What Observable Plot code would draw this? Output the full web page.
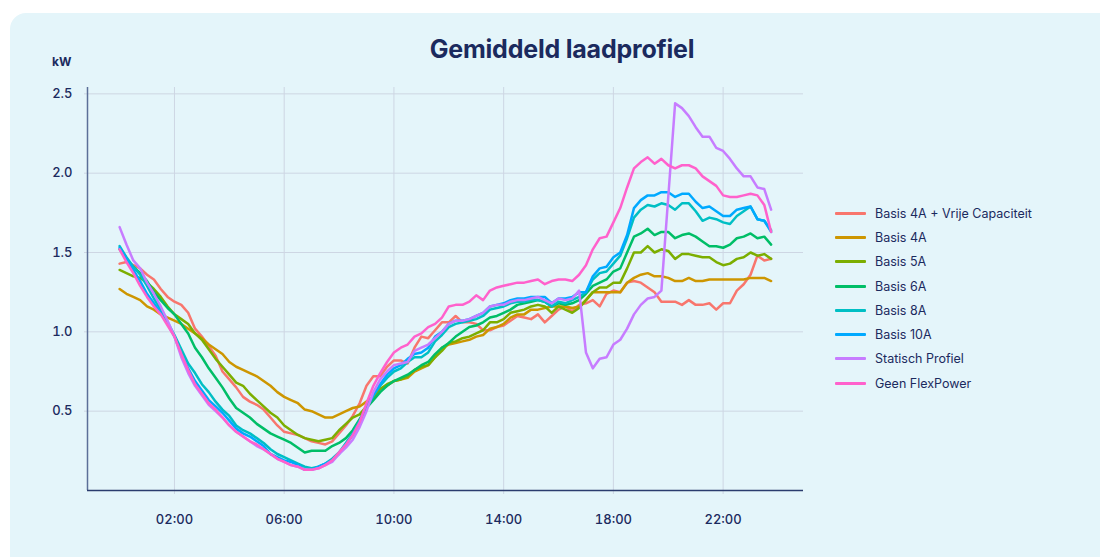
<!DOCTYPE html>
<html><head><meta charset="utf-8">
<script src="https://cdn.jsdelivr.net/npm/d3@7"></script>
<script src="https://cdn.jsdelivr.net/npm/@observablehq/plot@0.6"></script>
<style>
html,body{margin:0;padding:0;background:#fff;}
body{width:1100px;height:557px;overflow:hidden;position:relative;font-family:Inter,"Noto Sans",sans-serif;}
#card{position:absolute;left:10px;top:13px;width:1110px;height:570px;background:#E4F5FA;border-radius:16px;}
#title{position:absolute;left:0;width:1124px;top:34px;text-align:center;font-size:25px;font-weight:700;color:#1B2A5E;letter-spacing:-0.2px;}
#unit{position:absolute;left:52px;top:54px;font-size:12px;font-weight:700;color:#1B2A5E;}
#chart{position:absolute;left:0;top:0;}
#legend{position:absolute;left:835px;top:201px;}
.row{position:relative;height:24.3px;display:flex;align-items:center;}
.sw{width:31px;height:3px;border-radius:1px;margin-right:9px;}
.lb{font-size:12.5px;color:#1B2A5E;white-space:nowrap;}
</style></head>
<body>
<div id="card"></div>
<div id="chart"></div>
<div id="title">Gemiddeld laadprofiel</div>
<div id="unit">kW</div>
<div id="legend"></div>
<script>
// Series names and colours
const seriesNames = ["Basis 4A + Vrije Capaciteit","Basis 4A","Basis 5A","Basis 6A","Basis 8A","Basis 10A","Statisch Profiel","Geen FlexPower"];
const seriesColors = ["#F8766D","#CD9600","#7CAE00","#00BE67","#00BFC4","#00A9FF","#C77CFF","#FF61CC"];
// x tick labels (hours)
const xTicks = [2,6,10,14,18,22];
const yTicks = [0.5,1.0,1.5,2.0,2.5];

// 15-minute values (kW), 00:00 .. 23:45
const basis4AVrij = [
1.43,1.44,1.42,1.40,1.36,1.33,1.27,1.22,
1.19,1.17,1.12,1.02,0.97,0.91,0.85,0.75,
0.70,0.65,0.59,0.56,0.54,0.51,0.46,0.41,
0.37,0.36,0.35,0.33,0.31,0.30,0.29,0.31,
0.36,0.41,0.47,0.55,0.66,0.72,0.72,0.78,
0.82,0.82,0.80,0.90,0.97,0.96,1.01,1.06,
1.06,1.10,1.06,1.06,1.05,1.01,1.01,1.03,
1.04,1.07,1.10,1.09,1.08,1.11,1.06,1.10,
1.14,1.16,1.13,1.17,1.18,1.20,1.16,1.24,
1.26,1.25,1.31,1.32,1.31,1.28,1.25,1.19,
1.19,1.19,1.17,1.20,1.17,1.17,1.18,1.14,
1.18,1.18,1.26,1.30,1.36,1.48,1.45,1.46];
const basis4A = [
1.27,1.24,1.22,1.20,1.16,1.14,1.11,1.09,
1.07,1.05,1.02,0.99,0.96,0.92,0.89,0.86,
0.81,0.78,0.76,0.74,0.72,0.69,0.66,0.62,
0.59,0.57,0.55,0.51,0.50,0.48,0.46,0.46,
0.48,0.50,0.52,0.53,0.56,0.59,0.64,0.66,
0.69,0.70,0.71,0.75,0.77,0.79,0.84,0.90,
0.92,0.93,0.94,0.95,0.97,0.98,1.02,1.03,
1.05,1.09,1.11,1.11,1.14,1.14,1.15,1.16,
1.16,1.16,1.15,1.16,1.20,1.25,1.25,1.25,
1.25,1.25,1.31,1.34,1.36,1.37,1.35,1.35,
1.34,1.32,1.32,1.34,1.32,1.32,1.33,1.33,
1.33,1.33,1.33,1.33,1.34,1.34,1.34,1.32];
const basis5A = [
1.39,1.37,1.35,1.34,1.31,1.27,1.22,1.16,
1.11,1.08,1.05,0.99,0.95,0.89,0.83,0.78,
0.73,0.68,0.66,0.61,0.57,0.53,0.49,0.46,
0.41,0.38,0.35,0.33,0.32,0.31,0.32,0.33,
0.38,0.42,0.46,0.48,0.53,0.59,0.64,0.67,
0.69,0.70,0.72,0.76,0.78,0.79,0.84,0.88,
0.93,0.94,0.96,0.97,0.99,1.01,1.06,1.06,
1.08,1.12,1.13,1.14,1.16,1.17,1.16,1.12,
1.16,1.14,1.12,1.15,1.20,1.25,1.28,1.28,
1.31,1.31,1.40,1.50,1.50,1.54,1.50,1.52,
1.51,1.46,1.49,1.49,1.48,1.47,1.47,1.44,
1.42,1.43,1.46,1.47,1.50,1.48,1.49,1.46];
const basis6A = [
1.52,1.46,1.41,1.37,1.32,1.25,1.20,1.15,
1.11,1.05,0.99,0.90,0.84,0.77,0.71,0.65,
0.58,0.52,0.49,0.46,0.42,0.39,0.36,0.34,
0.32,0.30,0.27,0.24,0.25,0.25,0.25,0.28,
0.30,0.33,0.38,0.45,0.52,0.57,0.62,0.66,
0.69,0.71,0.73,0.76,0.79,0.81,0.86,0.90,
0.93,0.97,1.00,1.03,1.04,1.06,1.09,1.10,
1.12,1.14,1.17,1.18,1.19,1.20,1.19,1.16,
1.18,1.17,1.18,1.20,1.24,1.29,1.31,1.33,
1.38,1.40,1.50,1.60,1.62,1.65,1.61,1.63,
1.63,1.59,1.61,1.62,1.60,1.57,1.54,1.54,
1.53,1.55,1.59,1.60,1.62,1.59,1.60,1.55];
const basis8A = [
1.54,1.47,1.41,1.36,1.29,1.21,1.14,1.06,
0.98,0.89,0.80,0.74,0.67,0.62,0.56,0.51,
0.47,0.41,0.38,0.36,0.33,0.30,0.26,0.23,
0.21,0.19,0.17,0.15,0.14,0.15,0.17,0.20,
0.24,0.30,0.36,0.44,0.53,0.60,0.66,0.71,
0.75,0.77,0.81,0.84,0.84,0.87,0.94,0.98,
1.03,1.05,1.06,1.07,1.08,1.10,1.14,1.15,
1.16,1.18,1.19,1.19,1.20,1.20,1.19,1.16,
1.19,1.18,1.20,1.22,1.25,1.33,1.37,1.38,
1.43,1.48,1.59,1.72,1.77,1.80,1.79,1.81,
1.80,1.77,1.81,1.81,1.76,1.70,1.72,1.71,
1.69,1.68,1.73,1.76,1.79,1.71,1.70,1.64];
const basis10A = [
1.53,1.46,1.39,1.32,1.24,1.18,1.12,1.05,
0.97,0.86,0.77,0.69,0.63,0.57,0.53,0.49,
0.44,0.39,0.36,0.34,0.31,0.28,0.23,0.21,
0.19,0.18,0.16,0.13,0.13,0.15,0.17,0.19,
0.23,0.29,0.35,0.43,0.52,0.60,0.67,0.73,
0.77,0.79,0.83,0.86,0.87,0.90,0.97,1.00,
1.05,1.07,1.07,1.08,1.10,1.12,1.16,1.17,
1.18,1.20,1.21,1.21,1.22,1.22,1.22,1.18,
1.21,1.21,1.22,1.25,1.25,1.35,1.40,1.41,
1.47,1.50,1.61,1.78,1.83,1.86,1.86,1.88,
1.88,1.85,1.87,1.87,1.82,1.78,1.79,1.76,
1.73,1.73,1.77,1.78,1.79,1.71,1.70,1.63];
const statischProfiel = [
1.66,1.55,1.45,1.40,1.31,1.24,1.16,1.07,
0.97,0.84,0.74,0.66,0.60,0.54,0.50,0.46,
0.41,0.37,0.34,0.31,0.28,0.26,0.23,0.20,
0.18,0.16,0.15,0.13,0.13,0.14,0.16,0.18,
0.23,0.27,0.32,0.40,0.50,0.62,0.70,0.75,
0.79,0.80,0.81,0.88,0.90,0.92,0.96,1.00,
1.05,1.07,1.07,1.08,1.10,1.12,1.16,1.17,
1.17,1.19,1.20,1.20,1.21,1.22,1.20,1.18,
1.21,1.20,1.21,1.26,0.87,0.77,0.83,0.84,
0.92,0.95,1.02,1.11,1.17,1.21,1.22,1.26,
1.85,2.44,2.41,2.36,2.29,2.23,2.23,2.16,
2.14,2.09,2.03,1.98,1.98,1.91,1.90,1.77];
const geenFlexPower = [
1.52,1.44,1.37,1.29,1.22,1.16,1.11,1.04,
0.97,0.86,0.76,0.67,0.61,0.55,0.51,0.46,
0.41,0.37,0.34,0.31,0.29,0.26,0.23,0.20,
0.18,0.16,0.15,0.13,0.13,0.14,0.16,0.19,
0.24,0.29,0.35,0.43,0.55,0.66,0.74,0.81,
0.87,0.90,0.92,0.97,0.99,1.03,1.05,1.09,
1.16,1.17,1.17,1.19,1.23,1.20,1.26,1.28,
1.29,1.30,1.31,1.31,1.32,1.33,1.30,1.32,
1.33,1.33,1.32,1.36,1.42,1.52,1.59,1.60,
1.69,1.78,1.91,2.03,2.07,2.10,2.06,2.09,
2.05,2.03,2.05,2.05,2.03,1.98,1.95,1.92,
1.86,1.85,1.85,1.86,1.87,1.86,1.80,1.63];

const seriesValues = [basis4AVrij,basis4A,basis5A,basis6A,basis8A,basis10A,statischProfiel,geenFlexPower];
const rows = [];
seriesNames.forEach((name, s) => {
  seriesValues[s].forEach((v, i) => rows.push({series: name, t: i / 4, v}));
});

const navy = "#1B2A5E";
const grid = "#CDD6E3";
const xMin = -1.17, xMax = 24.93, yMax = 2.54;

const plot = Plot.plot({
  width: 1100, height: 557,
  marginLeft: 87, marginRight: 297, marginTop: 87, marginBottom: 67,
  style: {background: "transparent", fontFamily: "Inter, 'Noto Sans', sans-serif", fontSize: "13px", color: navy},
  x: {type: "linear", domain: [xMin, xMax]},
  y: {domain: [0, yMax]},
  color: {domain: seriesNames, range: seriesColors},
  marks: [
    Plot.gridX(xTicks, {stroke: grid, strokeOpacity: 1, strokeWidth: 1}),
    Plot.gridY(yTicks, {stroke: grid, strokeOpacity: 1, strokeWidth: 1}),
    Plot.axisX(xTicks, {tickFormat: d => String(d).padStart(2, "0") + ":00", tickSize: 4, tickPadding: 20, stroke: grid, fill: navy, fontSize: 13, fontWeight: 500, label: null}),
    Plot.axisY(yTicks, {tickFormat: d3.format(".1f"), tickSize: 3, tickPadding: 12, stroke: grid, fill: navy, fontSize: 13, fontWeight: 500, label: null}),
    Plot.line(rows, {x: "t", y: "v", z: "series", stroke: "series", strokeWidth: 2.5, strokeLinejoin: "round", strokeLinecap: "round"}),
    Plot.ruleX([xMin], {stroke: "#5B6F98", strokeWidth: 1.5}),
    Plot.ruleY([0], {stroke: "#2A3C6E", strokeWidth: 1.5})
  ]
});
document.getElementById("chart").appendChild(plot);

const legend = document.getElementById("legend");
seriesNames.forEach((name, i) => {
  const row = document.createElement("div");
  row.className = "row";
  row.innerHTML = `<div class="sw" style="background:${seriesColors[i]}"></div><div class="lb">${name}</div>`;
  legend.appendChild(row);
});
</script>
</body></html>
